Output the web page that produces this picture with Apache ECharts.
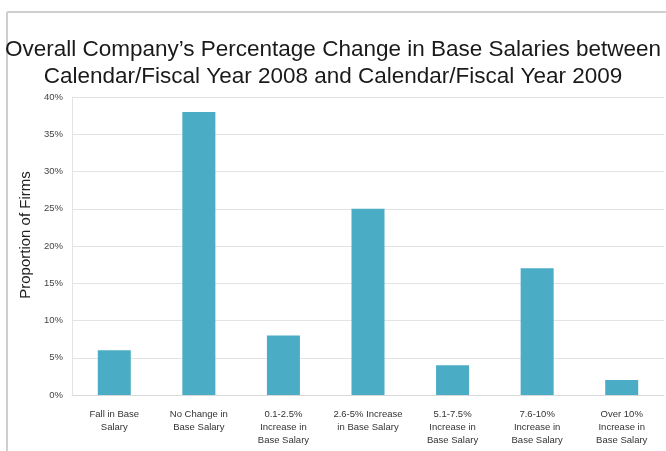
<!DOCTYPE html>
<html>
<head>
<meta charset="utf-8">
<script src="https://cdn.jsdelivr.net/npm/echarts@6/dist/echarts.min.js"></script>
<style>
  html, body { margin: 0; padding: 0; background: #fff; }
  #chart { width: 666px; height: 451px; }
</style>
</head>
<body>
<div id="chart"></div>
<script>
// Salary change buckets and share of firms in each (percent)
const categories = [
  'Fall in Base\nSalary',
  'No Change in\nBase Salary',
  '0.1-2.5%\nIncrease in\nBase Salary',
  '2.6-5% Increase\nin Base Salary',
  '5.1-7.5%\nIncrease in\nBase Salary',
  '7.6-10%\nIncrease in\nBase Salary',
  'Over 10%\nIncrease in\nBase Salary'
];
const shareOfFirms = [6, 38, 8, 25, 4, 17, 2];
const titleLines = [
  'Overall Company\u2019s Percentage Change in Base Salaries between',
  'Calendar/Fiscal Year 2008 and Calendar/Fiscal Year 2009'
];
const yAxisTitle = 'Proportion of Firms';

const FONT = "'Liberation Sans', Arial, sans-serif";

const chart = echarts.init(document.getElementById('chart'), null, { renderer: 'canvas' });

chart.setOption({
  animation: false,
  backgroundColor: '#ffffff',
  textStyle: { fontFamily: FONT },
  title: {
    text: titleLines.join('\n'),
    left: 'center',
    top: 31,
    textStyle: {
      fontFamily: FONT,
      fontSize: 22.5,
      fontWeight: 'normal',
      color: '#1a1a1a',
      lineHeight: 27
    }
  },
  graphic: [
    // outer frame lines along the top and left
    { type: 'line', shape: { x1: 7, y1: 12, x2: 666, y2: 12 }, style: { stroke: '#cfcfcf', lineWidth: 2 } },
    { type: 'line', shape: { x1: 7, y1: 12, x2: 7, y2: 451 }, style: { stroke: '#cfcfcf', lineWidth: 2 } }
  ],
  grid: { left: 72, right: 2, top: 97, bottom: 56, containLabel: false },
  xAxis: {
    type: 'category',
    data: categories,
    axisLine: { show: true, lineStyle: { color: '#d9d9d9', width: 1 } },
    axisTick: { show: false },
    axisLabel: {
      interval: 0,
      color: '#333',
      fontSize: 9.5,
      lineHeight: 13,
      margin: 13,
      fontFamily: FONT
    }
  },
  yAxis: {
    type: 'value',
    min: 0,
    max: 40,
    interval: 5,
    name: yAxisTitle,
    nameLocation: 'middle',
    nameGap: 37,
    nameTextStyle: { fontSize: 15, color: '#222', fontFamily: FONT, padding: [0, 0, 0, 22] },
    axisLine: { show: true, lineStyle: { color: '#e3e3e3', width: 1 } },
    axisTick: { show: false },
    axisLabel: {
      formatter: '{value}%',
      color: '#444',
      fontSize: 9.5,
      margin: 9,
      fontFamily: FONT
    },
    splitLine: { show: true, lineStyle: { color: '#e3e3e3', width: 1 } }
  },
  series: [{
    type: 'bar',
    data: shareOfFirms,
    barWidth: 33,
    itemStyle: { color: '#4bacc6' }
  }]
});
</script>
</body>
</html>
